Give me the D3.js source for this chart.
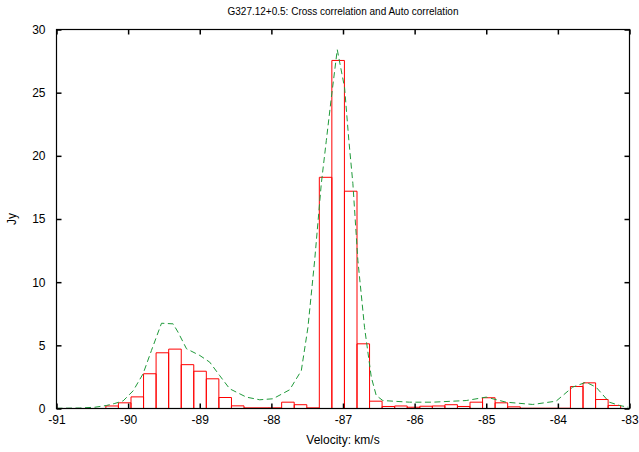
<!DOCTYPE html>
<html>
<head>
<meta charset="utf-8">
<script src="https://cdn.jsdelivr.net/npm/d3@7"></script>
<style>
  html, body { margin: 0; padding: 0; background: #fff; }
  svg text { font-family: "Liberation Sans", Arial, Helvetica, sans-serif; fill: #000; }
</style>
</head>
<body>
<svg id="chart" width="639" height="452"></svg>
<script>
// Cross-correlation spectrum: channel centre velocities (km/s) and flux (Jy)
const channelVelocity = [
  -90.223, -90.048, -89.872, -89.697, -89.522, -89.346, -89.171, -88.996,
  -88.821, -88.645, -88.470, -88.295, -88.119, -87.944, -87.769, -87.593,
  -87.418, -87.243, -87.068, -86.892, -86.717, -86.542, -86.366, -86.191,
  -86.016, -85.840, -85.665, -85.490, -85.315, -85.139, -84.964, -84.789,
  -84.613, -84.438, -84.263, -84.087, -83.912, -83.737, -83.561, -83.386,
  -83.211
];
const crossFlux = [
  0.20, 0.45, 0.92, 2.75, 4.41, 4.70, 3.47, 2.95,
  2.35, 0.87, 0.21, 0.05, 0.05, 0.05, 0.50, 0.30,
  0.05, 18.3, 27.55, 17.2, 5.12, 0.58, 0.16, 0.20,
  0.10, 0.18, 0.20, 0.30, 0.16, 0.50, 0.85, 0.45,
  0.13, 0.02, 0.02, 0.02, 0.02, 1.74, 2.03, 0.71,
  0.24
];
const channelWidth = 0.1753;

// Auto-correlation spectrum (dashed line)
const autoVelocity = [
  -91.000, -90.674, -90.464, -90.301, -90.186, -90.070, -89.930, -89.791,
  -89.674, -89.534, -89.372, -89.303, -89.185, -89.000, -88.861, -88.721,
  -88.582, -88.349, -88.163, -87.978, -87.745, -87.582, -87.490, -87.396,
  -87.303, -87.233, -87.163, -87.080, -86.978, -86.918, -86.862, -86.792,
  -86.699, -86.605, -86.536, -86.444, -86.071, -85.746, -85.280, -85.001,
  -84.722, -84.352, -84.025, -83.794, -83.607, -83.467, -83.281, -83.142,
  -83.017
];
const autoFlux = [
  0.02, 0.04, 0.10, 0.24, 0.40, 0.60, 1.40, 2.75,
  4.60, 6.75, 6.70, 6.04, 4.73, 4.20, 3.67, 2.60,
  1.56, 0.90, 0.69, 0.77, 1.48, 3.00, 6.40, 11.7,
  17.8, 21.2, 24.6, 28.4, 25.4, 21.2, 17.8, 11.7,
  6.40, 2.48, 1.03, 0.63, 0.50, 0.50, 0.63, 0.90,
  0.50, 0.32, 0.58, 1.69, 2.08, 1.69, 0.50, 0.24,
  0.10
];

const xTicks = [-91, -90, -89, -88, -87, -86, -85, -84, -83];
const yTicks = [0, 5, 10, 15, 20, 25, 30];

const titleText = "G327.12+0.5: Cross correlation and Auto correlation";
const xLabel = "Velocity: km/s";
const yLabel = "Jy";

const svg = d3.select("#chart");
const plotLeft = 56.5, plotRight = 629.5, plotTop = 29.5, plotBottom = 408.5;

const x = d3.scaleLinear().domain([-91, -83]).range([plotLeft, plotRight]);
const y = d3.scaleLinear().domain([0, 30]).range([plotBottom, plotTop]);

// Histogram boxes
const boxes = svg.append("g")
  .attr("fill", "none")
  .attr("stroke", "#ff0000")
  .attr("stroke-width", 1);
channelVelocity.forEach((v, i) => {
  const x0 = x(v - channelWidth / 2), x1 = x(v + channelWidth / 2);
  const y1 = y(crossFlux[i]);
  boxes.append("path")
    .attr("d", `M${x0},${y(0)}V${y1}H${x1}V${y(0)}`);
});

// Dashed auto-correlation line
const line = d3.line()
  .x((d, i) => x(autoVelocity[i]))
  .y(d => y(d));
svg.append("path")
  .datum(autoFlux)
  .attr("d", line)
  .attr("fill", "none")
  .attr("stroke", "#1f9a3a")
  .attr("stroke-width", 1)
  .attr("stroke-dasharray", "6,3.5");

// Axes with inward ticks, mirrored on top and right
const fontSize = 12;
const plainNumber = d => String(d);
const gx = svg.append("g").attr("transform", `translate(0,${plotBottom})`)
  .call(d3.axisBottom(x).tickValues(xTicks).tickSize(-5).tickPadding(7).tickFormat(plainNumber));
const gy = svg.append("g").attr("transform", `translate(${plotLeft},0)`)
  .call(d3.axisLeft(y).tickValues(yTicks).tickSize(-5).tickPadding(11).tickFormat(plainNumber));
const gt = svg.append("g").attr("transform", `translate(0,${plotTop})`)
  .call(d3.axisTop(x).tickValues(xTicks).tickSize(-5).tickFormat(""));
const gr = svg.append("g").attr("transform", `translate(${plotRight},0)`)
  .call(d3.axisRight(y).tickValues(yTicks).tickSize(-5).tickFormat(""));

[gx, gy, gt, gr].forEach(g => {
  g.select(".domain").remove();
  g.selectAll(".tick line").attr("stroke", "#000").attr("stroke-width", 1.5);
  g.selectAll("text").attr("font-size", fontSize)
    .style("font-family", "'Liberation Sans', Arial, Helvetica, sans-serif");
});

// Border frame
svg.append("rect")
  .attr("x", plotLeft).attr("y", plotTop)
  .attr("width", plotRight - plotLeft).attr("height", plotBottom - plotTop)
  .attr("fill", "none").attr("stroke", "#000").attr("stroke-width", 1.2);

// Title and axis labels
svg.append("text")
  .attr("x", (plotLeft + plotRight) / 2).attr("y", 15)
  .attr("text-anchor", "middle").attr("font-size", 10)
  .text(titleText);
svg.append("text")
  .attr("x", (plotLeft + plotRight) / 2).attr("y", 444)
  .attr("text-anchor", "middle").attr("font-size", fontSize)
  .text(xLabel);
svg.append("text")
  .attr("transform", `translate(16,${(plotTop + plotBottom) / 2}) rotate(-90)`)
  .attr("text-anchor", "middle").attr("font-size", fontSize)
  .text(yLabel);
</script>
</body>
</html>
